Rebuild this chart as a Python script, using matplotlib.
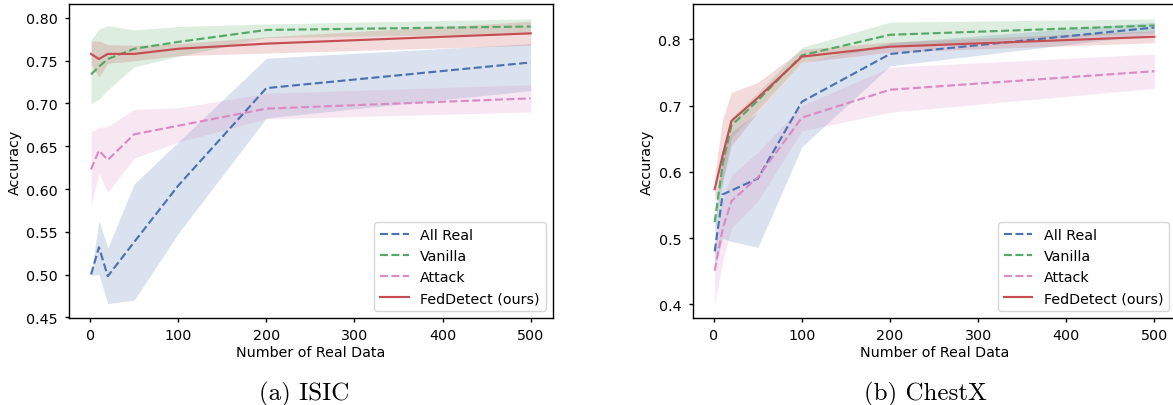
import matplotlib
matplotlib.use("Agg")
import matplotlib.pyplot as plt
import numpy as np

# ---------------- data ----------------
x_vals = [1, 10, 20, 50, 100, 200, 500]
series_names = ["All Real", "Vanilla", "Attack", "FedDetect (ours)"]

# ISIC
isic_allreal = [0.500, 0.532, 0.498, 0.538, 0.604, 0.718, 0.748]
isic_allreal_lo = [0.499, 0.500, 0.466, 0.470, 0.548, 0.683, 0.715]
isic_allreal_hi = [0.501, 0.563, 0.531, 0.606, 0.655, 0.753, 0.770]

isic_vanilla = [0.734, 0.743, 0.752, 0.764, 0.772, 0.786, 0.790]
isic_vanilla_lo = [0.700, 0.705, 0.716, 0.743, 0.755, 0.777, 0.782]
isic_vanilla_hi = [0.774, 0.787, 0.791, 0.786, 0.790, 0.793, 0.799]

isic_attack = [0.623, 0.645, 0.634, 0.664, 0.674, 0.694, 0.706]
isic_attack_lo = [0.580, 0.618, 0.596, 0.636, 0.655, 0.682, 0.690]
isic_attack_hi = [0.666, 0.672, 0.673, 0.693, 0.695, 0.712, 0.722]

isic_fed = [0.758, 0.752, 0.758, 0.758, 0.764, 0.770, 0.782]
isic_fed_lo = [0.746, 0.731, 0.747, 0.750, 0.756, 0.759, 0.768]
isic_fed_hi = [0.773, 0.773, 0.769, 0.768, 0.770, 0.778, 0.796]

# ChestX
chest_allreal = [0.480, 0.566, 0.572, 0.590, 0.706, 0.778, 0.818]
chest_allreal_lo = [0.455, 0.500, 0.495, 0.486, 0.638, 0.760, 0.808]
chest_allreal_hi = [0.510, 0.630, 0.660, 0.690, 0.765, 0.795, 0.826]

chest_vanilla = [0.524, 0.612, 0.670, 0.708, 0.776, 0.807, 0.821]
chest_vanilla_lo = [0.508, 0.585, 0.652, 0.694, 0.766, 0.790, 0.811]
chest_vanilla_hi = [0.540, 0.635, 0.682, 0.720, 0.788, 0.826, 0.831]

chest_attack = [0.451, 0.514, 0.556, 0.592, 0.682, 0.724, 0.752]
chest_attack_lo = [0.401, 0.465, 0.515, 0.556, 0.662, 0.690, 0.726]
chest_attack_hi = [0.490, 0.558, 0.595, 0.630, 0.700, 0.758, 0.778]

chest_fed = [0.574, 0.625, 0.677, 0.712, 0.774, 0.789, 0.804]
chest_fed_lo = [0.556, 0.585, 0.640, 0.690, 0.765, 0.781, 0.795]
chest_fed_hi = [0.596, 0.680, 0.720, 0.735, 0.785, 0.796, 0.813]

isic_yticks = [0.45, 0.50, 0.55, 0.60, 0.65, 0.70, 0.75, 0.80]
chest_yticks = [0.4, 0.5, 0.6, 0.7, 0.8]
xticks = [0, 100, 200, 300, 400, 500]
captions = ["(a) ISIC", "(b) ChestX"]

# ---------------- style ----------------
colors = ["#4C72B0", "#55A868", "#DA8BC3", "#C44E52"]
styles = ["--", "--", "--", "-"]
FS = 10.3
plt.rcParams["font.family"] = ["DejaVu Sans"]
plt.rcParams["font.size"] = FS

W, H = 1173, 406
fig = plt.figure(figsize=(W / 100, H / 100), dpi=100)

ax_w = 483.7 / W
ax_h = (319.3 - 5.3) / H
ax_b = (H - 319.3) / H
ax1 = fig.add_axes([69 / W, ax_b, ax_w, ax_h])
ax2 = fig.add_axes([692.7 / W, ax_b, ax_w, ax_h])

panels = [
    (ax1,
     [isic_allreal, isic_vanilla, isic_attack, isic_fed],
     [isic_allreal_lo, isic_vanilla_lo, isic_attack_lo, isic_fed_lo],
     [isic_allreal_hi, isic_vanilla_hi, isic_attack_hi, isic_fed_hi],
     isic_yticks, "{:.2f}", (0.4488, 0.816)),
    (ax2,
     [chest_allreal, chest_vanilla, chest_attack, chest_fed],
     [chest_allreal_lo, chest_vanilla_lo, chest_attack_lo, chest_fed_lo],
     [chest_allreal_hi, chest_vanilla_hi, chest_attack_hi, chest_fed_hi],
     chest_yticks, "{:.1f}", (0.379, 0.853)),
]

for ax, means, los, his, yt, fmt, ylim in panels:
    for name, m, lo, hi, c, ls in zip(series_names, means, los, his, colors, styles):
        ax.fill_between(x_vals, lo, hi, color=c, alpha=0.2, linewidth=0)
        ax.plot(x_vals, m, ls, color=c, lw=1.55, label=name)
    ax.set_xlim(-24, 525)
    ax.set_ylim(*ylim)
    ax.set_xticks(xticks)
    ax.set_yticks(yt)
    ax.set_yticklabels([fmt.format(v) for v in yt])
    ax.tick_params(direction="out", length=2.7, width=1.0, labelsize=FS)
    ax.tick_params(axis="y", pad=5.6)
    ax.tick_params(axis="x", pad=4.5)
    ax.set_xlabel("Number of Real Data", fontsize=FS, labelpad=2)
    ax.set_ylabel("Accuracy", fontsize=FS, labelpad=3)
    for s in ax.spines.values():
        s.set_color("black")
        s.set_linewidth(1.0)
    ax.legend(loc="lower right", fontsize=FS)

fig.text(304 / W, 1 - 394 / H, captions[0], family="cmr10", fontsize=18,
         ha="center", va="center")
fig.text(925 / W, 1 - 394 / H, captions[1], family="cmr10", fontsize=18,
         ha="center", va="center")

fig.savefig("out.png", dpi=100)
